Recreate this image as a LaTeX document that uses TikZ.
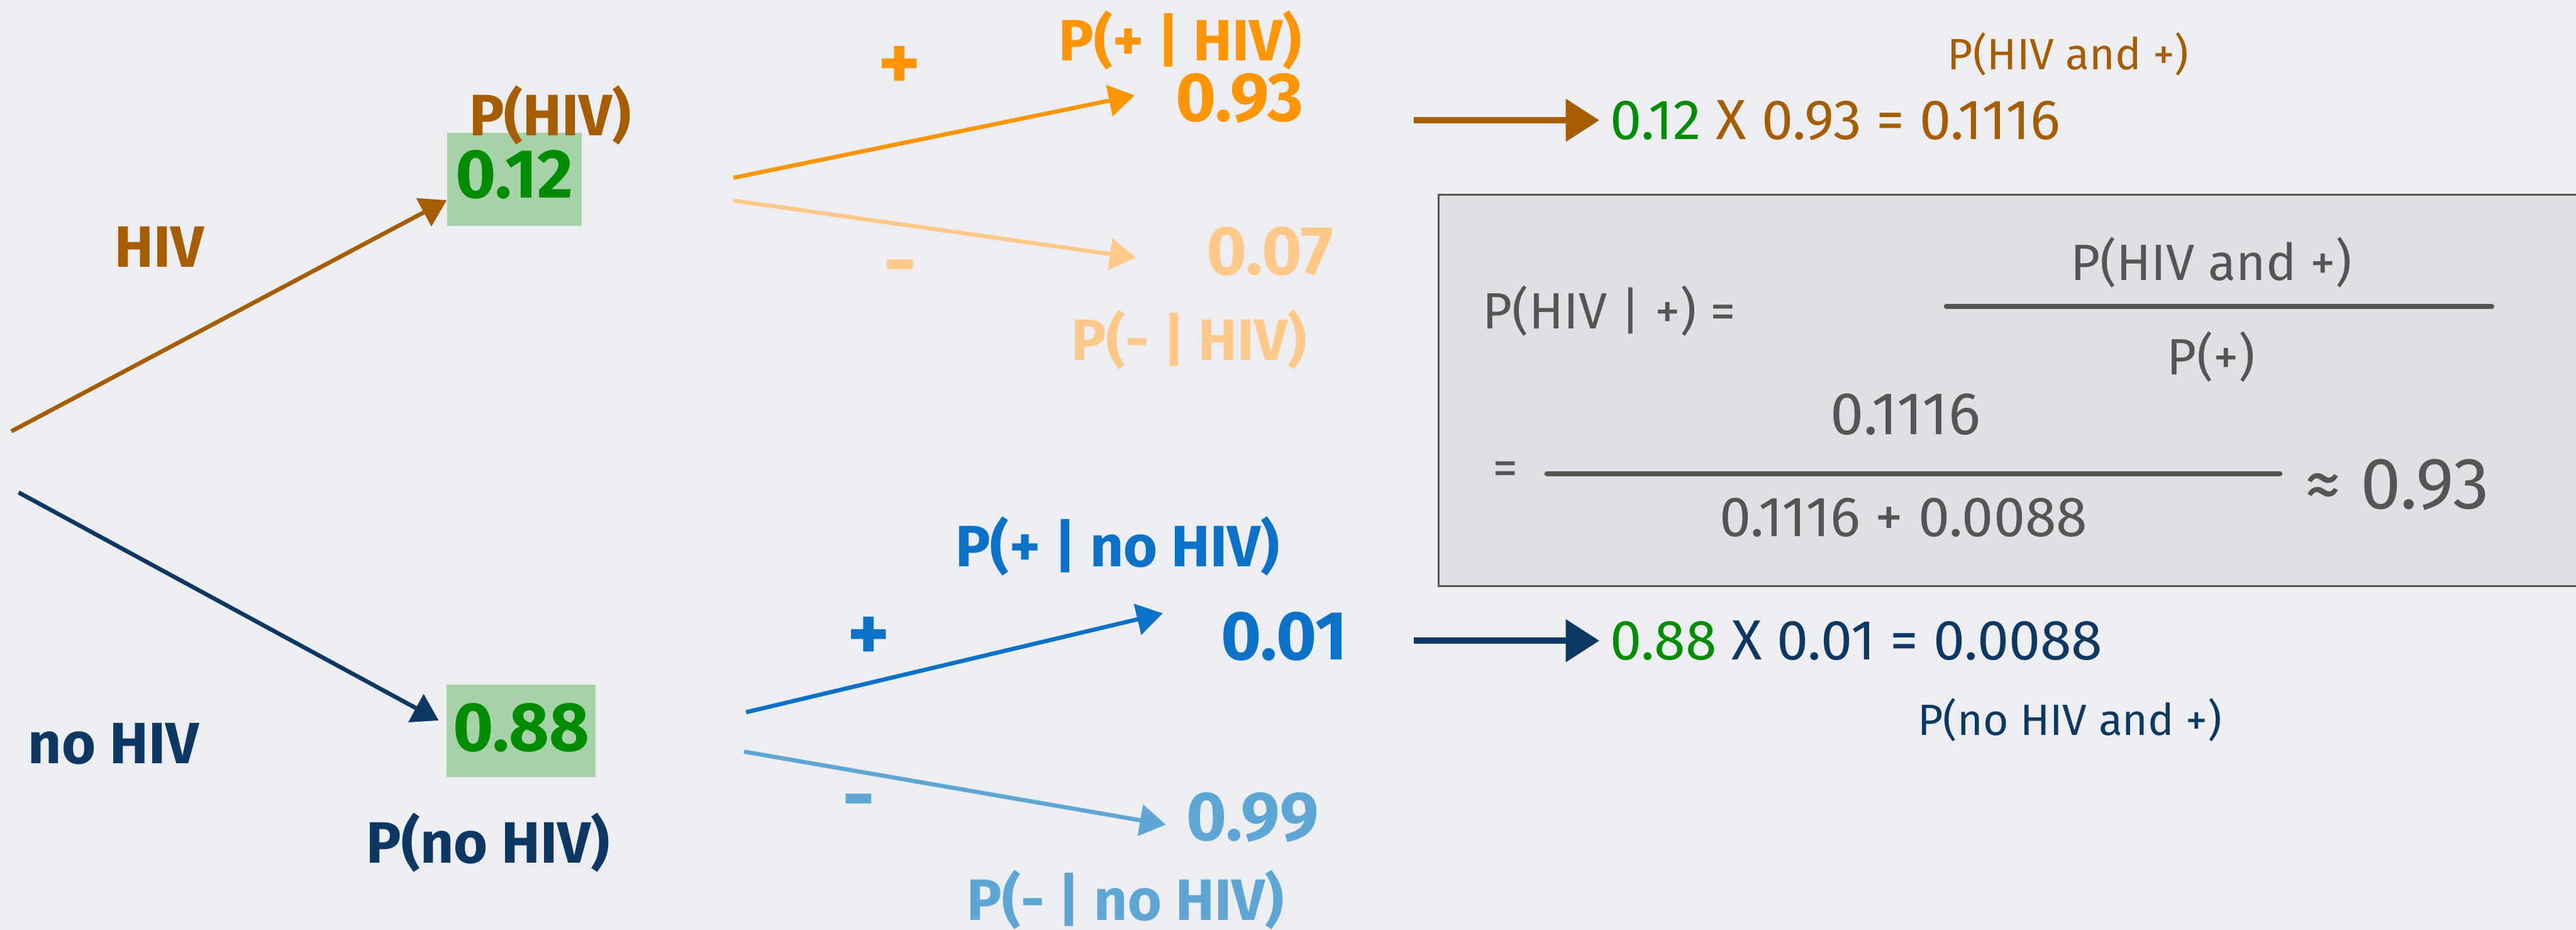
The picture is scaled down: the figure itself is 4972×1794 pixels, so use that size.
\documentclass[tikz,border=0pt]{standalone}
\usepackage{fontspec}
\setmainfont{Fira Sans}
\usepackage{xcolor}
\usepackage{tikz}
\usetikzlibrary{arrows.meta,positioning}
\definecolor{bgcol}{RGB}{236,238,241}
\definecolor{hivbrown}{RGB}{166,93,0}
\definecolor{hivnavy}{RGB}{13,56,100}
\definecolor{probgreen}{RGB}{0,140,0}
\definecolor{boxgreen}{RGB}{166,210,168}
\definecolor{posorange}{RGB}{255,149,0}
\definecolor{negorange}{RGB}{255,201,138}
\definecolor{posblue}{RGB}{12,114,199}
\definecolor{negblue}{RGB}{94,167,212}
\definecolor{boxgray}{RGB}{85,85,85}
\definecolor{boxfill}{RGB}{222,224,227}

\begin{document}
\begin{tikzpicture}[x=0.01cm,y=-0.01cm,
    every node/.style={inner sep=0.1cm, font=\fontsize{32pt}{38pt}\selectfont\bfseries},
    numtxt/.style={font=\fontsize{38pt}{44pt}\selectfont\bfseries},
    signtxt/.style={font=\fontsize{44pt}{50pt}\selectfont\bfseries},
    smalltxt/.style={font=\fontsize{24pt}{29pt}\selectfont},
    restxt/.style={anchor=west, font=\fontsize{31pt}{36pt}\selectfont},
    boxtxt/.style={font=\fontsize{28pt}{34pt}\selectfont, text=boxgray},
    probbox/.style={fill=boxgreen, text=probgreen, minimum height=1.79cm},
    branch/.style={-{Triangle[length=5mm,width=6mm]}, line width=2.3pt},
    joinarrow/.style={-{Triangle[length=6.5mm,width=8mm]}, line width=3.5pt}]
  \fill[bgcol] (0,0) rectangle (4972,1794);
  \useasboundingbox (0,0) rectangle (4972,1794);
  % first level: HIV / no HIV
  \coordinate (rootup) at (22,832);
  \coordinate (rootdn) at (36,950);
  \node[text=hivbrown] (lhiv) at (308,476) {HIV};
  \node[text=hivnavy] (lnohiv) at (219,1435) {no HIV};
  \node[probbox, numtxt, minimum width=2.6cm] (p12) at (993,346) {\raisebox{0.2cm}{0.12}};
  \node[probbox, numtxt, minimum width=2.87cm] (p88) at (1006,1410) {\raisebox{0.15cm}{0.88}};
  \node[text=hivbrown] (phiv) at (1062,222) {P(HIV)};
  \node[text=hivnavy] (pnohiv) at (942,1625) {P(no HIV)};
  \draw[branch, hivbrown] (rootup) -- ([yshift=0.5cm]p12.south west);
  \draw[branch, hivnavy, shorten >=0.17cm] (rootdn) -- ([yshift=0.12cm]p88.west);
  % second level, given HIV
  \coordinate (hivup) at (1416,343);
  \coordinate (hivdn) at (1416,387);
  \node[signtxt, text=posorange] (plus1) at (1736,132) {+};
  \node[signtxt, text=negorange] (minus1) at (1737,530) {-};
  \node[text=posorange] (pposhiv) at (2278,78) {P(+ | HIV)};
  \node[numtxt, text=posorange] (n93) at (2393,190) {0.93};
  \node[numtxt, text=negorange] (n07) at (2451,485) {0.07};
  \node[text=negorange] (pneghiv) at (2295,655) {P(- | HIV)};
  \draw[branch, posorange, shorten >=0.7cm] (hivup) -- ([yshift=0.2cm]n93.west);
  \draw[branch, negorange, shorten >=1.27cm] (hivdn) -- ([yshift=-0.3cm]n07.west);
  % second level, given no HIV
  \coordinate (nohivup) at (1440,1374);
  \coordinate (nohivdn) at (1436,1450);
  \node[signtxt, text=posblue] (plus2) at (1677,1233) {+};
  \node[signtxt, text=negblue] (minus2) at (1657,1561) {-};
  \node[text=posblue] (pposnohiv) at (2157,1054) {P(+ | no HIV)};
  \node[numtxt, text=posblue] (n01) at (2479,1228) {0.01};
  \node[numtxt, text=negblue] (n99) at (2418,1577) {0.99};
  \node[text=negblue] (pnegnohiv) at (2172,1736) {P(- | no HIV)};
  \draw[branch, posblue, shorten >=1.05cm] (nohivup) -- ([yshift=0.69cm]n01.west);
  \draw[branch, negblue, shorten >=0.3cm] (nohivdn) -- ([yshift=-0.19cm]n99.west);
  % joint probabilities
  \coordinate (res1tail) at (2729,232);
  \coordinate (res2tail) at (2729,1236);
  \node[smalltxt, text=hivbrown] (joint1) at (3992,105) {P(HIV and +)};
  \node[restxt, text=hivbrown] (res1) at (3097,232)
    {\textcolor{probgreen}{0.12} X 0.93 = 0.1116};
  \node[restxt, text=hivnavy] (res2) at (3097,1236)
    {\textcolor{probgreen}{0.88} X 0.01 = 0.0088};
  \node[smalltxt, text=hivnavy] (joint2) at (3995,1389) {P(no HIV and +)};
  \draw[joinarrow, hivbrown, shorten >=0.1cm] (res1tail) -- (res1.west);
  \draw[joinarrow, hivnavy, shorten >=0.1cm] (res2tail) -- (res2.west);
  % Bayes box
  \draw[draw=boxgray, fill=boxfill, line width=1.2pt] (2777,376) rectangle (4990,1131);
  \node[boxtxt] (bayes) at (3106,600) {P(HIV | +) =};
  \node[boxtxt] (numer) at (4268,506) {P(HIV and +)};
  \node[boxtxt] (denom) at (4268,688) {P(+)};
  \node[boxtxt] (eqtwo) at (2906,913) {=};
  \node[boxtxt, font=\fontsize{33pt}{38pt}\selectfont] (numtwo) at (3678,800) {0.1116};
  \node[boxtxt, font=\fontsize{31pt}{36pt}\selectfont] (dentwo) at (3674,998) {0.1116 + 0.0088};
  \node[boxtxt, font=\fontsize{40pt}{46pt}\selectfont] (approx) at (4627,935) {≈ 0.93};
  \draw[boxgray, line width=3pt, line cap=round] (3757,591) -- (4809,591);
  \draw[boxgray, line width=3pt, line cap=round] (2986,914) -- (4400,914);
\end{tikzpicture}
\end{document}
